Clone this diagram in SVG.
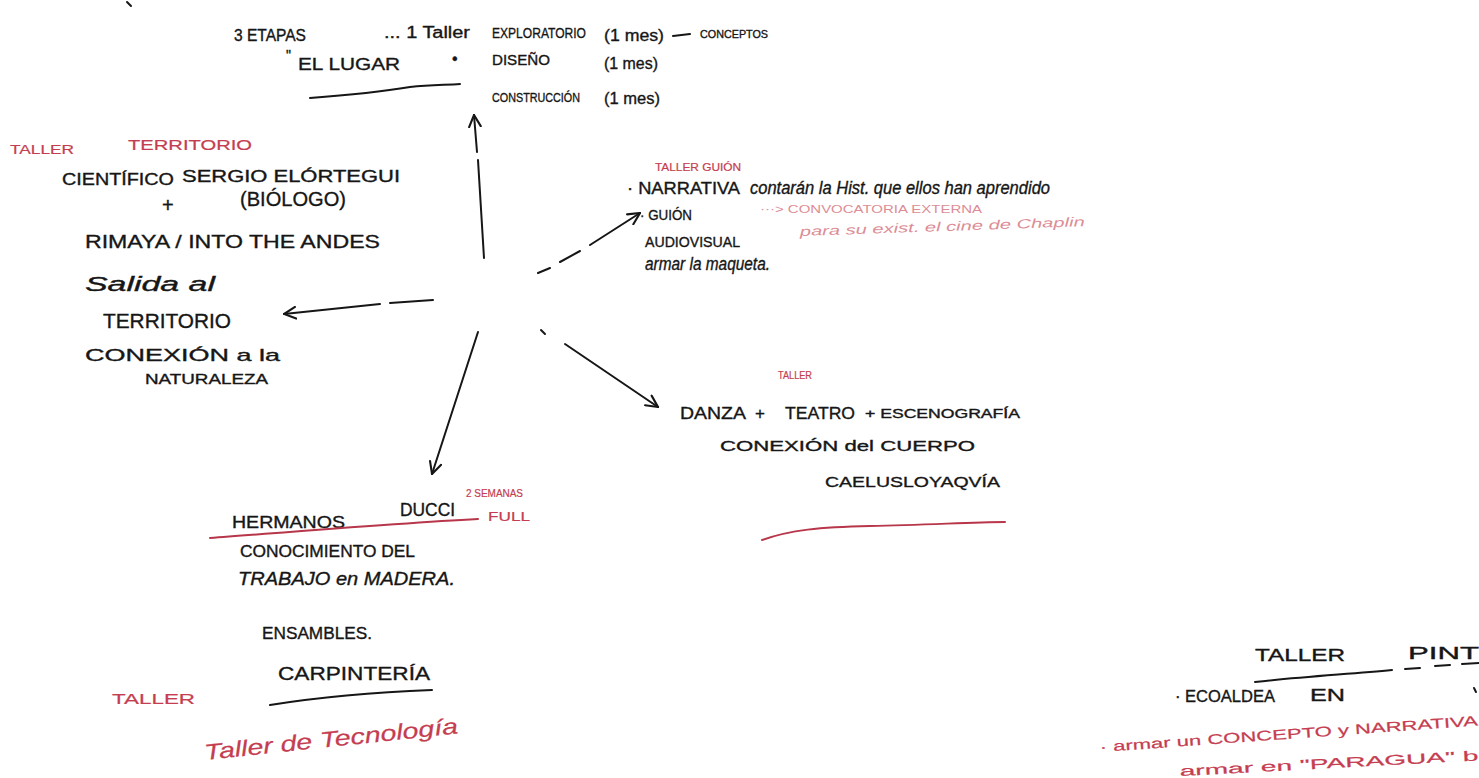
<svg xmlns="http://www.w3.org/2000/svg" width="1479" height="778" viewBox="0 0 1479 778">
<style>
.t{font-family:"Liberation Sans",Arial,sans-serif;fill:#161616;stroke:#161616;stroke-width:0.35}
.r{fill:#c53d50;stroke:#c53d50;stroke-width:0.2}
.lr{fill:#dc8d95;stroke:none}
.i{font-style:italic}
.ln{fill:none;stroke:#161616;stroke-width:2;stroke-linecap:round;stroke-linejoin:round}
.rl{fill:none;stroke:#b8364a;stroke-width:2;stroke-linecap:round}
</style>
<defs>
<marker id="ah" viewBox="0 0 12 12" refX="11" refY="6" markerWidth="14" markerHeight="14" markerUnits="userSpaceOnUse" orient="auto">
<path d="M1,1 L11,6 L1,11" fill="none" stroke="#161616" stroke-width="1.8" stroke-linecap="round"/>
</marker>
</defs>
<rect width="1479" height="778" fill="#ffffff"/>
<path class="ln" d="M127,2 L131,6" stroke-width="3"/>

<g id="connectors">
<path class="ln" d="M484,258 L478,160 M477,152 L474,115" marker-end="url(#ah)"/>
<path class="ln" d="M433,300 L390,303 M380,304 L284,314" marker-end="url(#ah)"/>
<path class="ln" d="M538,273 L550,268 M560,262 L580,251 M590,245 L640,213" marker-end="url(#ah)"/>
<path class="ln" d="M478,332 L432,474" marker-end="url(#ah)"/>
<path class="ln" d="M541,330 L545,334"/>
<path class="ln" d="M565,344 L658,407" marker-end="url(#ah)"/>
</g>

<g id="etapas">
<text class="t" x="234" y="41" font-size="16" textLength="72" lengthAdjust="spacingAndGlyphs">3 ETAPAS</text>
<text class="t" x="384" y="38" font-size="16" textLength="86" lengthAdjust="spacingAndGlyphs">... 1 Taller</text>
<text class="t" x="492" y="38" font-size="15" textLength="94" lengthAdjust="spacingAndGlyphs">EXPLORATORIO</text>
<text class="t" x="604" y="41" font-size="16" textLength="60" lengthAdjust="spacingAndGlyphs">(1 mes)</text>
<path class="ln" d="M673,36 L690,34" stroke-width="1.5"/>
<text class="t" x="700" y="38" font-size="11" textLength="68" lengthAdjust="spacingAndGlyphs">CONCEPTOS</text>
<text class="t" x="452" y="64" font-size="16">•</text>
<text class="t" x="492" y="65" font-size="14" textLength="58" lengthAdjust="spacingAndGlyphs">DISEÑO</text>
<text class="t" x="604" y="69" font-size="16" textLength="54" lengthAdjust="spacingAndGlyphs">(1 mes)</text>
<text class="t" x="492" y="102" font-size="13" textLength="88" lengthAdjust="spacingAndGlyphs">CONSTRUCCIÓN</text>
<text class="t" x="604" y="104" font-size="16" textLength="56" lengthAdjust="spacingAndGlyphs">(1 mes)</text>
</g>

<g id="el-lugar">
<text class="t" x="286" y="60" font-size="14">"</text>
<text class="t" x="298" y="70" font-size="17" textLength="102" lengthAdjust="spacingAndGlyphs">EL LUGAR</text>
<path class="ln" d="M310,98 C350,95 380,92 410,87 C430,85 445,85 460,84"/>
</g>

<g id="taller-territorio">
<text class="t r" x="10" y="154" font-size="13" textLength="64" lengthAdjust="spacingAndGlyphs">TALLER</text>
<text class="t r" x="128" y="150" font-size="14" textLength="124" lengthAdjust="spacingAndGlyphs">TERRITORIO</text>
<text class="t" x="62" y="185" font-size="16" textLength="112" lengthAdjust="spacingAndGlyphs">CIENTÍFICO</text>
<text class="t" x="182" y="182" font-size="16" textLength="218" lengthAdjust="spacingAndGlyphs">SERGIO ELÓRTEGUI</text>
<text class="t" x="240" y="206" font-size="21" textLength="106" lengthAdjust="spacingAndGlyphs">(BIÓLOGO)</text>
<text class="t" x="162" y="212" font-size="20">+</text>
<text class="t" x="85" y="248" font-size="19" textLength="295" lengthAdjust="spacingAndGlyphs">RIMAYA / INTO THE ANDES</text>
<text class="t i" x="85" y="291" font-size="20" textLength="130" lengthAdjust="spacingAndGlyphs">Salida al</text>
<text class="t" x="103" y="328" font-size="20" textLength="128" lengthAdjust="spacingAndGlyphs">TERRITORIO</text>
<text class="t" x="85" y="361" font-size="17" textLength="195" lengthAdjust="spacingAndGlyphs">CONEXIÓN a la</text>
<text class="t" x="145" y="384" font-size="14" textLength="123" lengthAdjust="spacingAndGlyphs">NATURALEZA</text>
</g>

<g id="taller-guion">
<text class="t r" x="655" y="171" font-size="11" textLength="86" lengthAdjust="spacingAndGlyphs">TALLER GUIÓN</text>
<text class="t" x="627" y="194" font-size="16" textLength="113" lengthAdjust="spacingAndGlyphs">· NARRATIVA</text>
<text class="t i" x="750" y="194" font-size="18" textLength="300" lengthAdjust="spacingAndGlyphs">contarán la Hist. que ellos han aprendido</text>
<text class="t" x="640" y="220" font-size="14" textLength="52" lengthAdjust="spacingAndGlyphs">· GUIÓN</text>
<text class="t lr" x="760" y="213" font-size="11" textLength="222" lengthAdjust="spacingAndGlyphs">···&gt; CONVOCATORIA EXTERNA</text>
<text class="t lr i" x="800" y="236" font-size="13" textLength="285" lengthAdjust="spacingAndGlyphs" transform="rotate(-2 800 236)">para su exist. el cine de Chaplin</text>
<text class="t" x="645" y="247" font-size="14" textLength="95" lengthAdjust="spacingAndGlyphs">AUDIOVISUAL</text>
<text class="t i" x="645" y="270" font-size="18" textLength="125" lengthAdjust="spacingAndGlyphs">armar la maqueta.</text>
</g>

<g id="taller-danza">
<text class="t r" x="778" y="379" font-size="10" textLength="34" lengthAdjust="spacingAndGlyphs">TALLER</text>
<text class="t" x="680" y="419" font-size="17" textLength="66" lengthAdjust="spacingAndGlyphs">DANZA</text>
<text class="t" x="755" y="419" font-size="17">+</text>
<text class="t" x="785" y="419" font-size="17" textLength="70" lengthAdjust="spacingAndGlyphs">TEATRO</text>
<text class="t" x="865" y="418" font-size="12" textLength="155" lengthAdjust="spacingAndGlyphs">+ ESCENOGRAFÍA</text>
<text class="t" x="720" y="451" font-size="15" textLength="255" lengthAdjust="spacingAndGlyphs">CONEXIÓN del CUERPO</text>
<text class="t" x="825" y="487" font-size="15" textLength="175" lengthAdjust="spacingAndGlyphs">CAELUSLOYAQVÍA</text>
<path class="rl" d="M762,540 C790,530 820,527 870,526 C930,525 970,522 1005,522"/>
</g>

<g id="hermanos-ducci">
<text class="t" x="232" y="528" font-size="17" textLength="113" lengthAdjust="spacingAndGlyphs">HERMANOS</text>
<text class="t" x="400" y="516" font-size="18" textLength="55" lengthAdjust="spacingAndGlyphs">DUCCI</text>
<text class="t r" x="466" y="497" font-size="11" textLength="57" lengthAdjust="spacingAndGlyphs">2 SEMANAS</text>
<text class="t r" x="488" y="521" font-size="12" textLength="42" lengthAdjust="spacingAndGlyphs">FULL</text>
<path class="rl" d="M210,538 C290,532 400,523 478,519"/>
<text class="t" x="240" y="557" font-size="16" textLength="175" lengthAdjust="spacingAndGlyphs">CONOCIMIENTO DEL</text>
<text class="t i" x="238" y="585" font-size="18" textLength="217" lengthAdjust="spacingAndGlyphs">TRABAJO en MADERA.</text>
<text class="t" x="262" y="639" font-size="17" textLength="110" lengthAdjust="spacingAndGlyphs">ENSAMBLES.</text>
<text class="t" x="278" y="680" font-size="19" textLength="152" lengthAdjust="spacingAndGlyphs">CARPINTERÍA</text>
<path class="ln" d="M270,705 C320,697 380,692 432,690"/>
<text class="t r" x="112" y="704" font-size="15" textLength="83" lengthAdjust="spacingAndGlyphs">TALLER</text>
<text class="t r i" x="205" y="760" font-size="22" textLength="255" lengthAdjust="spacingAndGlyphs" transform="rotate(-6 205 760)">Taller de Tecnología</text>
</g>

<g id="taller-pintura">
<text class="t" x="1255" y="661" font-size="17" textLength="90" lengthAdjust="spacingAndGlyphs">TALLER</text>
<text class="t" x="1408" y="659" font-size="17" textLength="71" lengthAdjust="spacingAndGlyphs">PINT</text>
<path class="ln" d="M1255,682 C1300,677 1350,674 1392,670 M1405,669 L1420,668 M1435,666 L1450,665 M1462,664 L1479,663"/>
<text class="t" x="1175" y="702" font-size="16" textLength="100" lengthAdjust="spacingAndGlyphs">· ECOALDEA</text>
<text class="t" x="1310" y="701" font-size="16" textLength="35" lengthAdjust="spacingAndGlyphs">EN</text>
<path class="ln" d="M1474,688 L1476,692"/>
<text class="t r" x="1100" y="752" font-size="14" textLength="379" lengthAdjust="spacingAndGlyphs" transform="rotate(-4 1100 752)">· armar un CONCEPTO y NARRATIVA</text>
<text class="t r" x="1180" y="776" font-size="14" textLength="299" lengthAdjust="spacingAndGlyphs" transform="rotate(-3 1180 776)">armar en "PARAGUA" b</text>
</g>
</svg>
